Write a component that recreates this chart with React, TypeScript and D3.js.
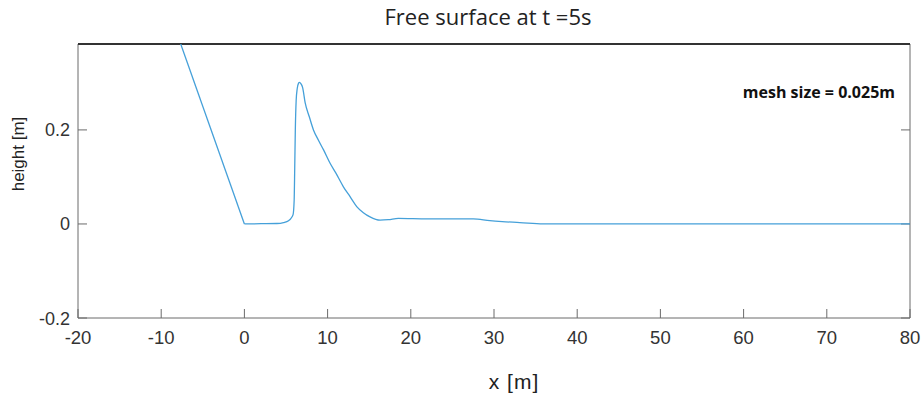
import React from "react";
import * as d3 from "d3";

const xValues = [-20, 0, 2, 3.9, 4.7, 5.3, 5.6, 5.85, 5.98, 6.05, 6.12, 6.22, 6.35, 6.5, 6.62, 6.8, 7.0, 7.3, 7.8, 8.3, 8.9, 9.5, 10.3, 11.0, 11.9, 12.7, 13.5, 14.3, 15.1, 16.3, 17.3, 18.5, 22, 27.5, 29.5, 31, 33.1, 35.9, 40, 50, 60, 70, 80];
const yValues = [1.0, 0, 0.0005, 0.001, 0.003, 0.007, 0.012, 0.02, 0.05, 0.12, 0.2, 0.262, 0.288, 0.299, 0.301, 0.298, 0.29, 0.258, 0.228, 0.2, 0.178, 0.158, 0.129, 0.108, 0.079, 0.058, 0.037, 0.024, 0.015, 0.008, 0.009, 0.012, 0.011, 0.011, 0.007, 0.005, 0.003, 0, 0, 0, 0, 0, 0];
const xTicks = [-20, -10, 0, 10, 20, 30, 40, 50, 60, 70, 80];
const yTicks = [-0.2, 0, 0.2];

const W = 923, H = 397;
const L = 78, R = 910, T = 44, B = 318;

export default function App() {
  const x = d3.scaleLinear().domain([-20, 80]).range([L, R]);
  const y = d3.scaleLinear().domain([-0.2, 0.3827]).range([B, T]);
  const pts = xValues.map((v, i) => [v, yValues[i]] as [number, number]);
  const linear = d3.line<[number, number]>().x(d => x(d[0])).y(d => y(d[1])).curve(d3.curveLinear);
  const smooth = d3.line<[number, number]>().x(d => x(d[0])).y(d => y(d[1])).curve(d3.curveMonotoneX);
  const tickLen = 9;
  const axisColor = "#6b6b6b";
  const font = "'Liberation Sans', Arial, sans-serif";
  const lineColor = "#45a0d9";
  return (
    <svg width={W} height={H} style={{ position: "absolute", left: 0, top: 0, background: "#fff" }}>
      <defs>
        <clipPath id="plotclip">
          <rect x={L} y={T} width={R - L} height={B - T} />
        </clipPath>
      </defs>
      <text x={488} y={25} textAnchor="middle" fontFamily="'Open Sans', sans-serif" fontSize={22} fill="#222">Free surface at t =5s</text>
      <line x1={L} y1={T} x2={L} y2={B} stroke={axisColor} strokeWidth={1} />
      <line x1={L} y1={B} x2={R} y2={B} stroke={axisColor} strokeWidth={1} />
      <line x1={R} y1={T} x2={R} y2={B} stroke={axisColor} strokeWidth={1} />
      {xTicks.map(t => (
        <g key={"xt" + t}>
          <line x1={x(t)} x2={x(t)} y1={B} y2={B - tickLen} stroke={axisColor} strokeWidth={1} />
          <text x={x(t)} y={344} textAnchor="middle" fontFamily={font} fontSize={18.5} fill="#333">{t}</text>
        </g>
      ))}
      {yTicks.map(t => (
        <g key={"yt" + t}>
          <line x1={L} x2={L + tickLen} y1={y(t)} y2={y(t)} stroke={axisColor} strokeWidth={1} />
          <line x1={R} x2={R - tickLen} y1={y(t)} y2={y(t)} stroke={axisColor} strokeWidth={1} />
          <text x={70} y={y(t) + 6.5} textAnchor="end" fontFamily={font} fontSize={18} fill="#333">{t === 0 ? "0" : t.toFixed(1)}</text>
        </g>
      ))}
      <line x1={L} y1={T} x2={R} y2={T} stroke="#333" strokeWidth={2} />
      <g clipPath="url(#plotclip)">
        <path d={linear(pts.slice(0, 2)) || ""} fill="none" stroke={lineColor} strokeWidth={1.3} />
        <path d={smooth(pts.slice(1)) || ""} fill="none" stroke={lineColor} strokeWidth={1.3} />
      </g>
      <text x={895} y={98} textAnchor="end" fontFamily="'Open Sans', sans-serif" fontWeight="bold" fontSize={16} fill="#111">mesh size = 0.025m</text>
      <text transform="translate(24,154) rotate(-90)" textAnchor="middle" fontFamily={font} fontSize={17} fill="#222">height [m]</text>
      <text x={514} y={389} textAnchor="middle" fontFamily={font} fontSize={21} letterSpacing={1} fill="#222">x [m]</text>
    </svg>
  );
}
